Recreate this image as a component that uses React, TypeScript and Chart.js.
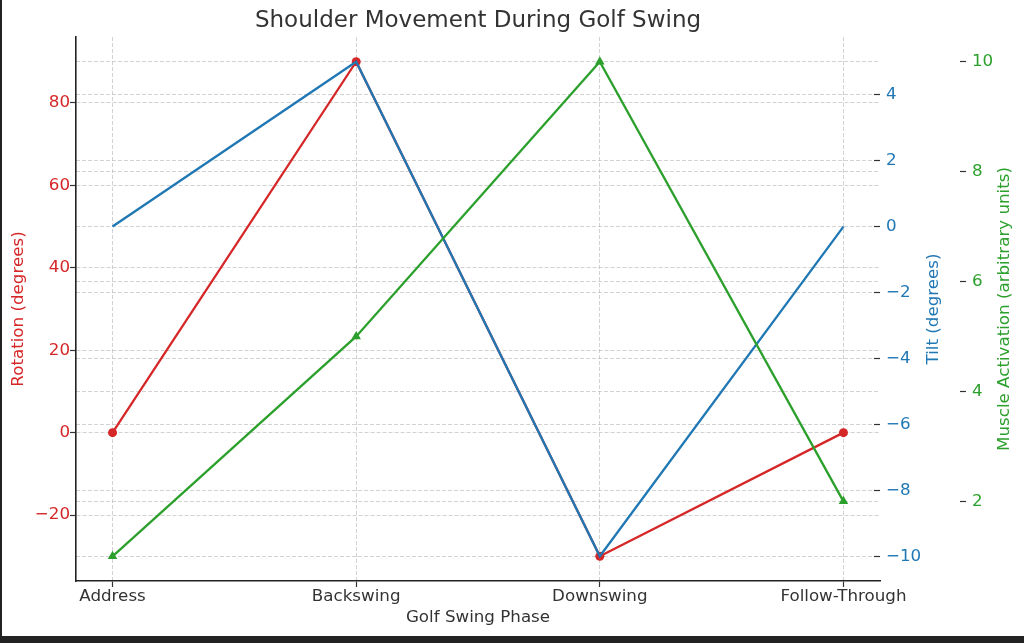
import React, { useEffect, useRef } from "react";
import { Chart, registerables } from "chart.js";

Chart.register(...registerables);

// ---- data ----
const phases = ["Address", "Backswing", "Downswing", "Follow-Through"];
const rotation = [0, 90, -30, 0];
const tilt = [0, 5, -10, 0];
const muscle = [1, 5, 10, 2];

const phaseTicks = [0, 1, 2, 3];
const rotationTicks = [-20, 0, 20, 40, 60, 80];
const tiltTicks = [-10, -8, -6, -4, -2, 0, 2, 4];
const muscleTicks = [2, 4, 6, 8, 10];

const phaseRange = [-0.15, 3.15];
const rotationRange = [-36, 96];
const tiltRange = [-10.75, 5.75];
const muscleRange = [0.55, 10.45];

const chartTitle = "Shoulder Movement During Golf Swing";
const xTitle = "Golf Swing Phase";
const rotationTitle = "Rotation (degrees)";
const tiltTitle = "Tilt (degrees)";
const muscleTitle = "Muscle Activation (arbitrary units)";

// ---- style ----
const RED = "#d62728";
const BLUE = "#1f77b4";
const GREEN = "#2ca02c";
const TEXT = "#333333";
const FONT = "'DejaVu Sans', sans-serif";
const TICK_SIZE = 16.7;

const fmt = (v: number) => (v < 0 ? "\u2212" + Math.abs(v) : String(v));

const gridStyle = {
  display: true,
  drawOnChartArea: true,
  color: "rgba(180,180,180,0.6)",
  lineWidth: 1,
  tickLength: 6,
  tickColor: "#333333",
  tickWidth: 1.2,
};

const borderStyle = (display: boolean) => ({
  display,
  dash: [4, 2],
  color: "#222222",
  width: 1.6,
});

const setTicks = (values: number[]) => (scale: any) => {
  scale.ticks = values.map((v) => ({ value: v }));
};

const framePlugin = {
  id: "frame",
  beforeDraw(chart: any) {
    const { ctx, width, height } = chart;
    ctx.save();
    ctx.fillStyle = "#ffffff";
    ctx.fillRect(0, 0, width, height);
    ctx.fillStyle = "#222222";
    ctx.fillRect(0, 0, 2, height);
    ctx.fillRect(0, 636, width, height - 636);
    ctx.restore();
  },
};

const sideTitlePlugin = {
  id: "sideTitles",
  afterDraw(chart: any) {
    const { ctx, chartArea } = chart;
    const cy = (chartArea.top + chartArea.bottom) / 2;
    const items = [
      { scale: chart.scales.y1, text: tiltTitle, color: BLUE, off: 26 },
      { scale: chart.scales.y2, text: muscleTitle, color: GREEN, off: 19 },
    ];
    ctx.save();
    ctx.font = `${TICK_SIZE}px ${FONT}`;
    ctx.textAlign = "center";
    ctx.textBaseline = "middle";
    for (const it of items) {
      ctx.save();
      ctx.translate(it.scale.right - it.off, cy);
      ctx.rotate(-Math.PI / 2);
      ctx.fillStyle = it.color;
      ctx.fillText(it.text, 0, 0);
      ctx.restore();
    }
    ctx.restore();
  },
};

export default function App() {
  const ref = useRef<HTMLCanvasElement | null>(null);

  useEffect(() => {
    if (!ref.current) return;
    const chart = new Chart(ref.current, {
      type: "line",
      data: {
        datasets: [
          {
            label: "Muscle Activation",
            data: muscle.map((v, i) => ({ x: i, y: v })),
            yAxisID: "y2",
            borderColor: GREEN,
            backgroundColor: GREEN,
            borderWidth: 2.3,
            pointStyle: "triangle",
            pointRadius: 5.5,
            pointBorderWidth: 0,
            tension: 0,
            order: 1,
          },
          {
            label: "Tilt",
            data: tilt.map((v, i) => ({ x: i, y: v })),
            yAxisID: "y1",
            borderColor: BLUE,
            backgroundColor: BLUE,
            borderWidth: 2.3,
            pointRadius: 0,
            tension: 0,
            order: 2,
          },
          {
            label: "Rotation",
            data: rotation.map((v, i) => ({ x: i, y: v })),
            yAxisID: "y",
            borderColor: RED,
            backgroundColor: RED,
            borderWidth: 2.3,
            pointStyle: "circle",
            pointRadius: 4.5,
            pointBorderWidth: 0,
            tension: 0,
            order: 3,
          },
        ],
      },
      options: {
        animation: false,
        responsive: false,
        maintainAspectRatio: false,
        devicePixelRatio: 1,
        layout: { padding: { left: 0, right: 0, top: 0, bottom: 12 } },
        plugins: {
          legend: { display: false },
          tooltip: { enabled: false },
          title: {
            display: true,
            text: chartTitle,
            color: TEXT,
            fullSize: false,
            font: { family: FONT, size: 23, weight: "normal", lineHeight: 1.2 },
            padding: { top: 7, bottom: 2.4 },
          },
        },
        scales: {
          x: {
            type: "linear",
            position: "bottom",
            min: phaseRange[0],
            max: phaseRange[1],
            afterBuildTicks: setTicks(phaseTicks),
            afterFit: (s: any) => {
              s.height = 50;
            },
            grid: { ...gridStyle },
            border: borderStyle(true),
            ticks: {
              autoSkip: false,
              maxRotation: 0,
              padding: 0,
              color: TEXT,
              font: { family: FONT, size: TICK_SIZE },
              callback: (v: any) => phases[Math.round(Number(v))] ?? "",
            },
            title: {
              display: true,
              text: xTitle,
              color: TEXT,
              font: { family: FONT, size: TICK_SIZE, lineHeight: 1.2 },
              padding: { top: 0, bottom: 3 },
            },
          },
          y: {
            type: "linear",
            position: "left",
            min: rotationRange[0],
            max: rotationRange[1],
            afterBuildTicks: setTicks(rotationTicks),
            afterFit: (s: any) => {
              s.width = 76;
            },
            grid: { ...gridStyle },
            border: borderStyle(true),
            ticks: {
              autoSkip: false,
              padding: 0,
              color: RED,
              font: { family: FONT, size: TICK_SIZE },
              callback: (v: any) => fmt(Number(v)),
            },
            title: {
              display: true,
              text: rotationTitle,
              color: RED,
              font: { family: FONT, size: TICK_SIZE, lineHeight: 1.2 },
              padding: { top: 9, bottom: 0 },
            },
          },
          y1: {
            type: "linear",
            position: "right",
            min: tiltRange[0],
            max: tiltRange[1],
            afterBuildTicks: setTicks(tiltTicks),
            afterFit: (s: any) => {
              s.width = 80;
            },
            grid: { ...gridStyle, tickLength: -6 },
            border: borderStyle(false),
            ticks: {
              autoSkip: false,
              padding: 12,
              color: BLUE,
              font: { family: FONT, size: TICK_SIZE },
              callback: (v: any) => fmt(Number(v)),
            },
          },
          y2: {
            type: "linear",
            position: "right",
            min: muscleRange[0],
            max: muscleRange[1],
            afterBuildTicks: setTicks(muscleTicks),
            afterFit: (s: any) => {
              s.width = 64;
            },
            grid: { ...gridStyle },
            border: borderStyle(false),
            ticks: {
              autoSkip: false,
              padding: 6,
              color: GREEN,
              font: { family: FONT, size: TICK_SIZE },
              callback: (v: any) => fmt(Number(v)),
            },
          },
        },
      } as any,
      plugins: [framePlugin, sideTitlePlugin],
    });
    return () => chart.destroy();
  }, []);

  return (
    <div style={{ position: "absolute", left: 0, top: 0, width: 1024, height: 643 }}>
      <canvas ref={ref} width={1024} height={643} style={{ display: "block", width: "1024px", height: "643px" }} />
    </div>
  );
}
